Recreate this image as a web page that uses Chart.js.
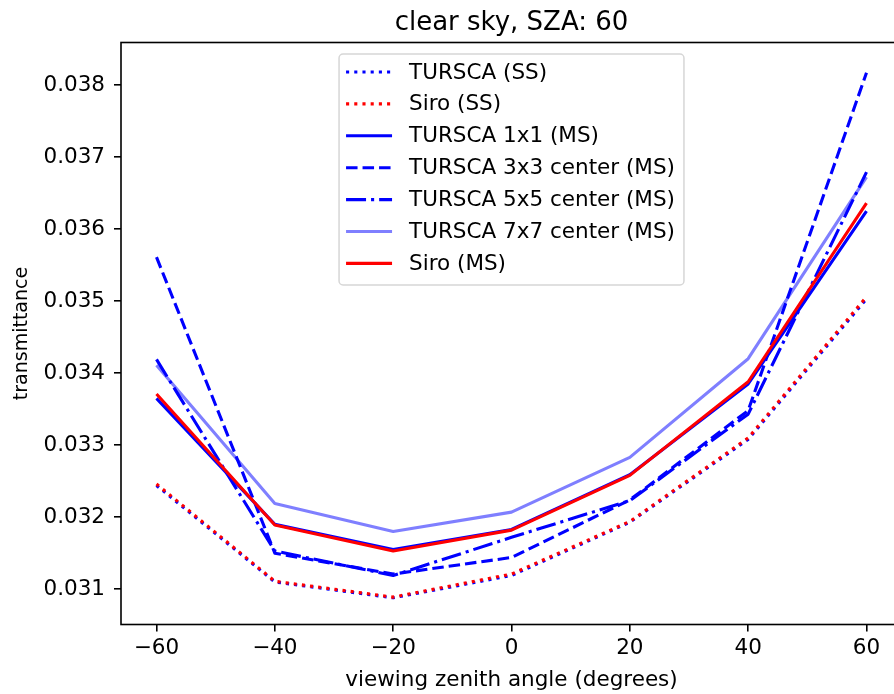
<!DOCTYPE html>
<html lang="en">
<head>
    <meta charset="UTF-8">
    <title>clear sky, SZA: 60</title>
    <script src="https://cdn.jsdelivr.net/npm/chart.js"></script>
    <style>
        body {
            margin: 0;
            padding: 0;
            background: white;
            overflow: hidden;
        }
        .wrap {
            width: 894px;
            height: 694px;
            overflow: hidden;
        }
    </style>
</head>
<body>

    <div class="wrap">
        <canvas id="vzaChart" width="920" height="694"></canvas>
    </div>

    <script>
        // viewing zenith angles (degrees)
        const angles = [-60, -40, -20, 0, 20, 40, 60];

        // transmittance per viewing angle
        const turscaSS   = [0.03244, 0.03110, 0.03088, 0.03119, 0.03193, 0.03308, 0.03503];
        const siroSS     = [0.03246, 0.03111, 0.03089, 0.03121, 0.03194, 0.03310, 0.03506];
        const tursca1x1  = [0.03365, 0.03190, 0.03155, 0.03183, 0.03259, 0.03385, 0.03625];
        const tursca3x3  = [0.03561, 0.03150, 0.03121, 0.03144, 0.03224, 0.03348, 0.03817];
        const tursca5x5  = [0.03419, 0.03153, 0.03119, 0.03172, 0.03223, 0.03343, 0.03679];
        const tursca7x7  = [0.03411, 0.03219, 0.03180, 0.03207, 0.03283, 0.03420, 0.03672];
        const siroMS     = [0.03371, 0.03189, 0.03153, 0.03182, 0.03258, 0.03388, 0.03636];

        const xTicks = [-60, -40, -20, 0, 20, 40, 60];
        const yTicks = [0.031, 0.032, 0.033, 0.034, 0.035, 0.036, 0.037, 0.038];

        const FONT = '"DejaVu Sans", sans-serif';
        const LW = 3.1;
        const DOTTED = [3.1, 5.1];
        const DASHED = [11.5, 5];
        const DASHDOT = [20, 5, 3.1, 5];

        function series(label, values, color, dash) {
            return {
                label: label,
                data: angles.map((a, i) => ({ x: a, y: values[i] })),
                borderColor: color,
                backgroundColor: color,
                borderWidth: LW,
                borderDash: dash,
                borderCapStyle: 'butt',
                borderJoinStyle: 'round',
                pointRadius: 0,
                tension: 0,
                fill: false
            };
        }

        const datasets = [
            series('TURSCA (SS)', turscaSS, '#0000ff', DOTTED),
            series('Siro (SS)', siroSS, '#ff0000', DOTTED),
            series('TURSCA 1x1 (MS)', tursca1x1, '#0000ff', []),
            series('TURSCA 3x3 center (MS)', tursca3x3, '#0000ff', DASHED),
            series('TURSCA 5x5 center (MS)', tursca5x5, '#0000ff', DASHDOT),
            series('TURSCA 7x7 center (MS)', tursca7x7, 'rgba(0,0,255,0.5)', []),
            series('Siro (MS)', siroMS, '#ff0000', [])
        ];
        // later series are painted on top
        datasets.forEach((d, i) => { d.order = datasets.length - i; });

        // title, axes frame and legend box
        const decor = {
            id: 'decor',
            afterDatasetsDraw(chart) {
                const { ctx, chartArea } = chart;
                const a = chartArea;
                ctx.save();

                ctx.strokeStyle = '#000';
                ctx.lineWidth = 1.6;
                ctx.setLineDash([]);
                ctx.strokeRect(a.left, a.top, a.right - a.left, a.bottom - a.top);

                ctx.fillStyle = '#000';
                ctx.font = '26px ' + FONT;
                ctx.textAlign = 'center';
                ctx.textBaseline = 'alphabetic';
                ctx.fillText('clear sky, SZA: 60', (a.left + a.right) / 2, 30);

                // legend
                const items = chart.data.datasets;
                ctx.font = '21.5px ' + FONT;
                const textW = Math.max(...items.map(d => ctx.measureText(d.label).width));
                const w = 7 + 46 + 17 + textW + 9;
                const h = 231;
                const x0 = (a.left + a.right) / 2 - w / 2;
                const y0 = a.top + 11.5;
                ctx.beginPath();
                if (ctx.roundRect) ctx.roundRect(x0, y0, w, h, 4);
                else ctx.rect(x0, y0, w, h);
                ctx.fillStyle = 'rgba(255,255,255,0.8)';
                ctx.fill();
                ctx.strokeStyle = 'rgba(204,204,204,0.8)';
                ctx.lineWidth = 1.5;
                ctx.stroke();

                ctx.textAlign = 'left';
                ctx.textBaseline = 'middle';
                items.forEach((d, i) => {
                    const cy = y0 + 18 + i * 31.9;
                    ctx.setLineDash(d.borderDash);
                    ctx.strokeStyle = d.borderColor;
                    ctx.lineWidth = d.borderWidth;
                    ctx.lineCap = 'butt';
                    ctx.beginPath();
                    ctx.moveTo(x0 + 7, cy);
                    ctx.lineTo(x0 + 53, cy);
                    ctx.stroke();
                    ctx.setLineDash([]);
                    ctx.fillStyle = '#000';
                    ctx.fillText(d.label, x0 + 70, cy + 1);
                });

                ctx.restore();
            }
        };

        const ctx = document.getElementById('vzaChart').getContext('2d');
        new Chart(ctx, {
            type: 'line',
            data: { datasets: datasets },
            plugins: [decor],
            options: {
                responsive: false,
                animation: false,
                layout: { padding: { top: 42.5, right: 18, left: 0, bottom: 0 } },
                plugins: {
                    legend: { display: false },
                    title: { display: false },
                    tooltip: { enabled: false }
                },
                scales: {
                    x: {
                        type: 'linear',
                        min: -66,
                        max: 66,
                        afterFit: s => { s.height = 69.5; },
                        afterBuildTicks: s => { s.ticks = xTicks.map(v => ({ value: v })); },
                        border: { display: false },
                        grid: {
                            drawOnChartArea: false,
                            drawTicks: true,
                            tickLength: 7,
                            color: '#000',
                            lineWidth: 1.6
                        },
                        ticks: {
                            color: '#000',
                            font: { family: FONT, size: 21.5 },
                            padding: 4,
                            maxRotation: 0,
                            callback: v => (v < 0 ? '\u2212' + Math.abs(v) : String(v))
                        },
                        title: {
                            display: true,
                            text: 'viewing zenith angle (degrees)',
                            color: '#000',
                            font: { family: FONT, size: 21.5 },
                            padding: { top: 0, bottom: 1 }
                        }
                    },
                    y: {
                        type: 'linear',
                        min: 0.0305097,
                        max: 0.0385903,
                        afterFit: s => { s.width = 121; },
                        afterBuildTicks: s => { s.ticks = yTicks.map(v => ({ value: v })); },
                        border: { display: false },
                        grid: {
                            drawOnChartArea: false,
                            drawTicks: true,
                            tickLength: 7,
                            color: '#000',
                            lineWidth: 1.6
                        },
                        ticks: {
                            color: '#000',
                            font: { family: FONT, size: 21.5 },
                            padding: 9,
                            callback: v => v.toFixed(3)
                        },
                        title: {
                            display: true,
                            text: 'transmittance',
                            color: '#000',
                            font: { family: FONT, size: 19 },
                            padding: { top: 11, bottom: 0 }
                        }
                    }
                }
            }
        });
    </script>

</body>
</html>
